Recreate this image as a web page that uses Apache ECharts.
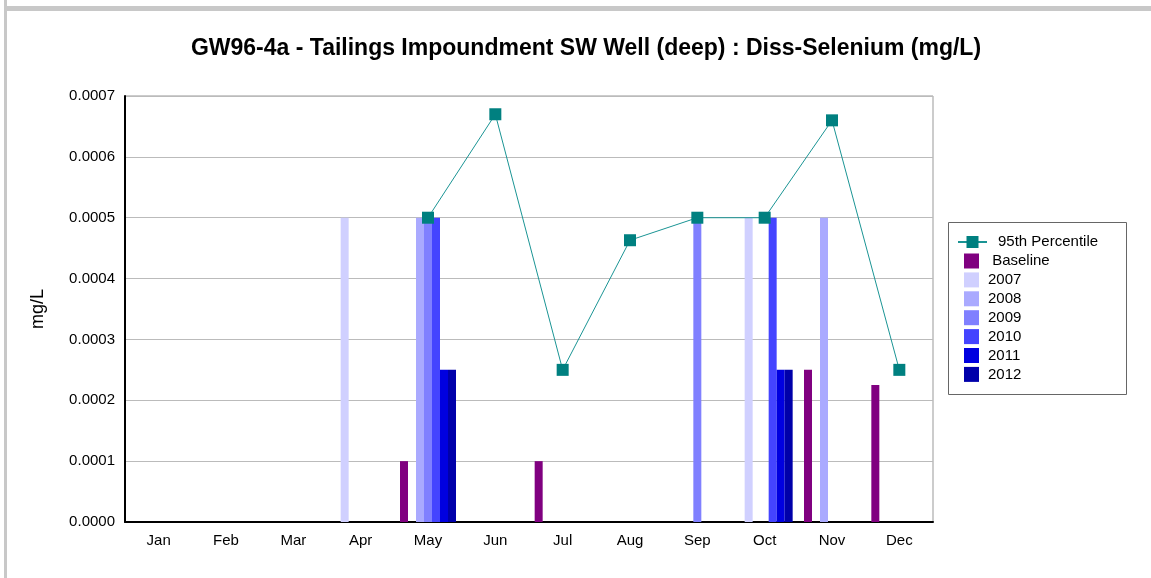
<!DOCTYPE html>
<html lang="en">
<head>
    <meta charset="UTF-8">
    <title>GW96-4a Diss-Selenium</title>
    <script src="https://cdn.jsdelivr.net/npm/echarts@6/dist/echarts.min.js"></script>
    <style>
        html, body { margin: 0; padding: 0; background: #fff; }
    </style>
</head>
<body>
<div id="main" style="width: 1151px;height:578px;"></div>
<script>
    var months = ['Jan','Feb','Mar','Apr','May','Jun','Jul','Aug','Sep','Oct','Nov','Dec'];
    var pct95 = [null,null,null,null,0.0005,0.00067,0.00025,0.000463,0.0005,0.0005,0.00066,0.00025];
    var baseline = [null,null,null,null,0.0001,null,0.0001,null,null,null,0.00025,0.000225];
    var y2007 = [null,null,null,0.0005,null,null,null,null,null,0.0005,null,null];
    var y2008 = [null,null,null,null,0.0005,null,null,null,null,null,0.0005,null];
    var y2009 = [null,null,null,null,0.0005,null,null,null,0.0005,null,null,null];
    var y2010 = [null,null,null,null,0.0005,null,null,null,null,0.0005,null,null];
    var y2011 = [null,null,null,null,0.00025,null,null,null,null,0.00025,null,null];
    var y2012 = [null,null,null,null,0.00025,null,null,null,null,0.00025,null,null];

    var barSeries = [
        {name: 'Baseline', data: baseline, color: '#800080'},
        {name: '2007', data: y2007, color: '#D0D0FF'},
        {name: '2008', data: y2008, color: '#AAAAFF'},
        {name: '2009', data: y2009, color: '#8080FF'},
        {name: '2010', data: y2010, color: '#4444FF'},
        {name: '2011', data: y2011, color: '#0000E0'},
        {name: '2012', data: y2012, color: '#0000AA'}
    ];

    var font = '"Liberation Sans", Arial, sans-serif';
    var myChart = echarts.init(document.getElementById('main'));

    var series = barSeries.map(function (s) {
        return {
            name: s.name,
            type: 'bar',
            data: s.data,
            barWidth: 8,
            barGap: '0%',
            itemStyle: {color: s.color},
            z: 2
        };
    });
    series.push({
        name: '95th Percentile',
        type: 'line',
        data: pct95,
        symbol: 'rect',
        symbolSize: 12,
        connectNulls: false,
        itemStyle: {color: '#008080'},
        lineStyle: {color: '#1a9494', width: 1},
        z: 5
    });

    var option = {
        animation: false,
        title: {
            text: 'GW96-4a - Tailings Impoundment SW Well (deep) : Diss-Selenium (mg/L)',
            left: 581,
            textAlign: 'center',
            top: 32,
            textStyle: {fontFamily: font, fontSize: 23, fontWeight: 'bold', color: '#000'}
        },
        graphic: [
            {type: 'rect', shape: {x: 4, y: 0, width: 3, height: 578}, style: {fill: '#c8c8c8'}},
            {type: 'rect', shape: {x: 4, y: 6, width: 1147, height: 5}, style: {fill: '#c8c8c8'}},
            {type: 'rect', shape: {x: 948.5, y: 222.5, width: 178, height: 172}, style: {fill: 'none', stroke: '#666', lineWidth: 1}}
        ],
        legend: [
            {
                data: ['95th Percentile'],
                left: 957,
                top: 234.5,
                itemWidth: 29,
                itemHeight: 15,
                textStyle: {fontFamily: font, fontSize: 15, lineHeight: 15, color: '#000', padding: [0, 0, 0, 6]},
                padding: 0
            },
            {
                data: ['Baseline','2007','2008','2009','2010','2011','2012'],
                orient: 'vertical',
                left: 964,
                top: 253.5,
                itemWidth: 15,
                itemHeight: 15,
                itemGap: 3.9,
                icon: 'rect',
                formatter: function (n) { return n === 'Baseline' ? ' ' + n : n; },
                textStyle: {fontFamily: font, fontSize: 15, lineHeight: 15, color: '#000', padding: [0, 0, 0, 4]},
                padding: 0
            }
        ],
        grid: {
            left: 125,
            right: 218,
            top: 96,
            bottom: 56,
            show: true,
            borderColor: '#999',
            borderWidth: 1
        },
        xAxis: {
            type: 'category',
            data: months,
            axisLine: {lineStyle: {color: '#000', width: 2}},
            axisTick: {alignWithLabel: true, length: 4, lineStyle: {color: '#000'}},
            axisLabel: {fontFamily: font, fontSize: 15, color: '#000', margin: 11}
        },
        yAxis: {
            type: 'value',
            min: 0,
            max: 0.0007,
            interval: 0.0001,
            name: 'mg/L',
            nameLocation: 'middle',
            nameGap: 78,
            nameTextStyle: {fontFamily: font, fontSize: 18, color: '#000'},
            axisLine: {show: true, lineStyle: {color: '#000', width: 2}},
            axisTick: {show: false},
            splitLine: {lineStyle: {color: '#bbb', width: 1}},
            axisLabel: {
                fontFamily: font, fontSize: 15, color: '#000', margin: 10,
                formatter: function (v) { return v.toFixed(4); }
            }
        },
        series: series
    };
    myChart.setOption(option);
</script>
</body>
</html>
